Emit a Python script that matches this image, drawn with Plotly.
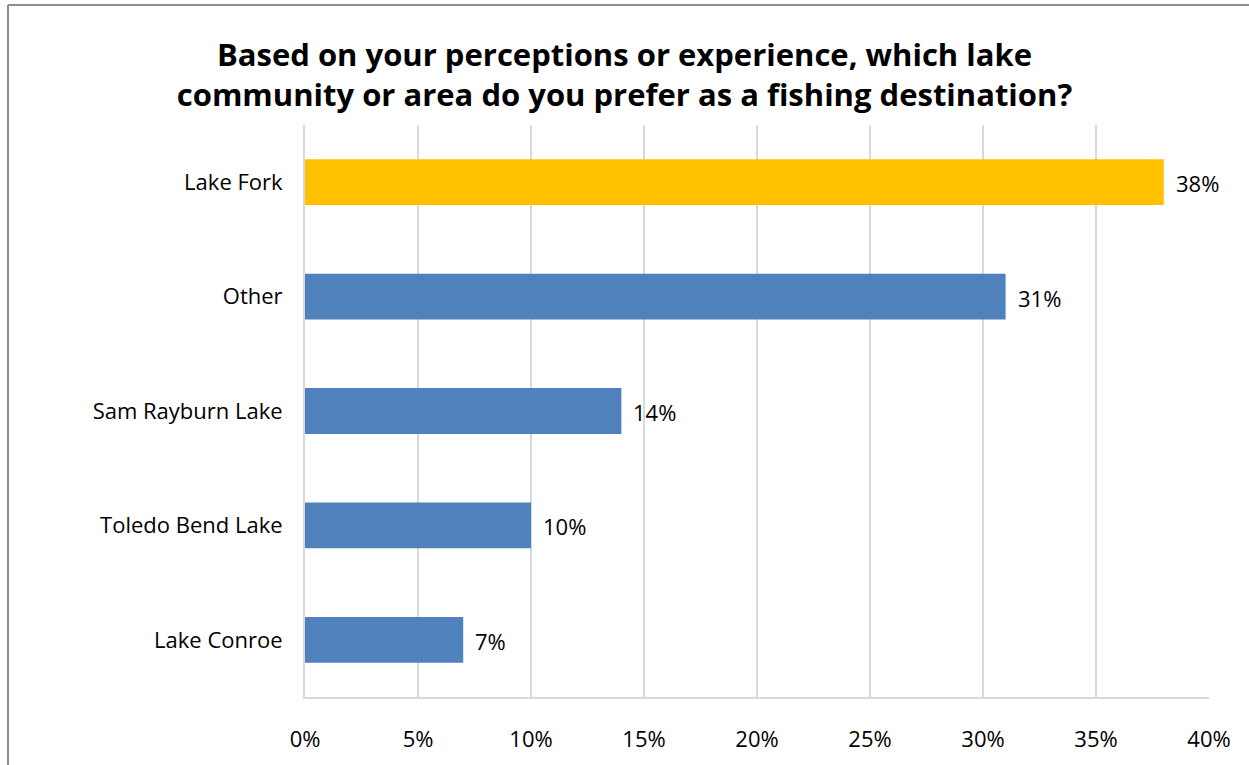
import plotly.graph_objects as go

categories = ["Lake Fork", "Other", "Sam Rayburn Lake", "Toledo Bend Lake", "Lake Conroe"]
values = [38, 31, 14, 10, 7]
colors = ["#FFC000", "#4F81BD", "#4F81BD", "#4F81BD", "#4F81BD"]
tick_vals = [0, 5, 10, 15, 20, 25, 30, 35, 40]
tick_text = [f"{v}%" for v in tick_vals]

W, H = 1249, 765
L, R, T, B = 305, 40, 125, 68
FONT = "'Open Sans', Lato, sans-serif"

fig = go.Figure(go.Bar(
    y=categories,
    x=values,
    orientation="h",
    marker=dict(color=colors, line=dict(width=0)),
    width=0.4,
    hoverinfo="x+y",
))

# value labels to the right of each bar
for cat, val in zip(categories, values):
    fig.add_annotation(
        x=val, y=cat, text=f"{val}%", showarrow=False,
        xanchor="left", yanchor="middle", xshift=10, yshift=-1,
        font=dict(family=FONT, size=22, color="#000000"),
    )

pw = W - L - R
ph = H - T - B
# chart frame line (top and left edges)
fx = (8 - L) / pw
fy = 1 + (T - 5) / ph
fig.add_shape(type="line", xref="paper", yref="paper",
              x0=fx, x1=(W - L + 10) / pw, y0=fy, y1=fy,
              line=dict(color="#8C8C8C", width=2))
fig.add_shape(type="line", xref="paper", yref="paper",
              x0=fx, x1=fx, y0=fy, y1=-(B + 10) / ph,
              line=dict(color="#8C8C8C", width=2))

fig.update_layout(
    width=W, height=H,
    margin=dict(l=L, r=R, t=T, b=B, autoexpand=False),
    paper_bgcolor="white",
    plot_bgcolor="white",
    showlegend=False,
    title=dict(
        text="Based on your perceptions or experience, which lake<br>community or area do you prefer as a fishing destination?",
        x=0.5, xanchor="center", y=1 - 66 / H, yanchor="middle",
        font=dict(family=FONT, size=31, color="#000000", weight="bold"),
    ),
    xaxis=dict(
        range=[0, 40],
        tickvals=tick_vals,
        ticktext=tick_text,
        showgrid=True,
        gridcolor="#D9D9D9",
        gridwidth=2,
        zeroline=False,
        showline=True,
        linecolor="#D9D9D9",
        linewidth=2,
        ticks="",
        tickfont=dict(family=FONT, size=22, color="#000000"),
        ticklabelstandoff=22,
    ),
    yaxis=dict(
        autorange="reversed",
        showgrid=False,
        zeroline=False,
        showline=True,
        linecolor="#D9D9D9",
        linewidth=2,
        ticks="",
        ticklabelstandoff=16,
        tickfont=dict(family=FONT, size=22, color="#000000"),
    ),
    bargap=0.6,
)

fig.write_html("out.html")
